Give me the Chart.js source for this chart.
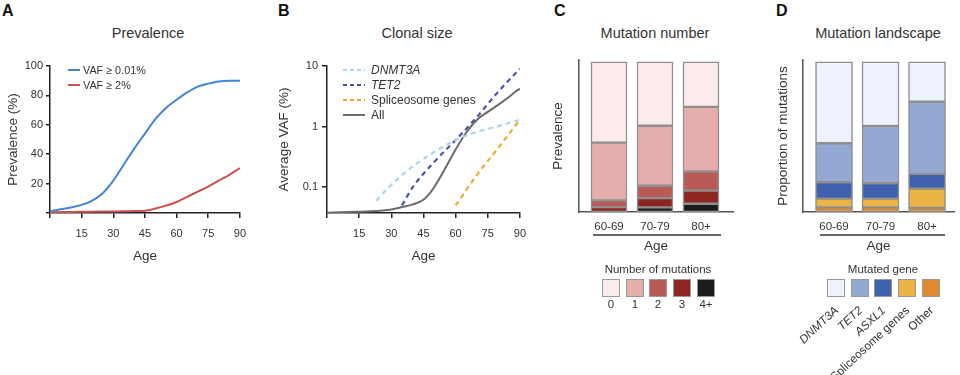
<!DOCTYPE html>
<html>
<head>
<meta charset="utf-8">
<script src="https://cdn.jsdelivr.net/npm/chart.js@4"></script>
<style>
  body { margin: 0; background: #fff; font-family: "Liberation Sans", Arial, sans-serif; color: #333; }
  #wrap { position: relative; width: 960px; height: 375px; overflow: hidden; }
  canvas { position: absolute; }
  .abs { position: absolute; white-space: nowrap; line-height: 1; }
  .letter { font-weight: bold; font-size: 16px; color: #111; top: 3px; }
  .title { font-size: 14.5px; top: 26px; transform: translateX(-50%); }
  .leg { position: absolute; font-size: 11px; }
  .leg .row { display: flex; align-items: center; white-space: nowrap; }
  .box { position: absolute; width: 18px; height: 18px; box-sizing: border-box; border: 1px solid #999; }
  .sep { position: absolute; height: 1.5px; background: #666; }
</style>
</head>
<body>
<div id="wrap">
  <div class="abs letter" style="left:2px">A</div>
  <div class="abs letter" style="left:278px">B</div>
  <div class="abs letter" style="left:554px">C</div>
  <div class="abs letter" style="left:776px">D</div>

  <div class="abs title" style="left:148px">Prevalence</div>
  <div class="abs title" style="left:417px">Clonal size</div>
  <div class="abs title" style="left:655px">Mutation number</div>
  <div class="abs title" style="left:878px">Mutation landscape</div>

  <canvas id="chartA" width="255" height="270" style="left:0;top:0;width:255px;height:270px"></canvas>
  <canvas id="chartB" width="285" height="270" style="left:250px;top:0;width:285px;height:270px"></canvas>
  <canvas id="chartC" width="215" height="260" style="left:530px;top:0;width:215px;height:260px"></canvas>
  <canvas id="chartD" width="210" height="260" style="left:750px;top:0;width:210px;height:260px"></canvas>

  <div id="legA" class="leg" style="left:68px;top:62px;font-size:10.8px"></div>
  <div id="legB" class="leg" style="left:343px;top:62px;font-size:12px"></div>

  <div class="sep" style="left:593px;top:234px;width:128px"></div>
  <div class="sep" style="left:820px;top:234px;width:125px"></div>

  <div id="legC"></div>
  <div id="legD"></div>
</div>

<script>
// ---- Panel A: prevalence by age ----
const AGES_A = [0, 5, 10, 15, 20, 25, 30, 35, 40, 45, 50, 55, 60, 65, 70, 75, 80, 85, 90];
const PREV_VAF_001 = [1.2, 2.5, 3.8, 5.5, 8.5, 13.5, 22, 33, 44, 54, 64, 71.5, 77, 82, 86, 88, 89.5, 90, 90];
const PREV_VAF_2 = [0.5, 0.6, 0.7, 0.8, 0.9, 1, 1.1, 1.2, 1.3, 1.5, 3, 5, 7.5, 11, 14.5, 18, 22, 26, 30.5];
const A_LABELS = ['VAF \u2265 0.01%', 'VAF \u2265 2%'];
const A_COLORS = ['#4285d6', '#c9514f'];

// ---- Panel B: average VAF by age (log scale) ----
const DNMT3A_AGES = [23, 30, 40, 50, 60, 70, 80, 90];
const DNMT3A_VAF = [0.06, 0.11, 0.22, 0.38, 0.6, 0.82, 1.02, 1.3];
const TET2_AGES = [35, 40, 50, 60, 70, 80, 90];
const TET2_VAF = [0.05, 0.1, 0.26, 0.6, 1.45, 3.8, 9];
const SPLICE_AGES = [60, 70, 80, 90];
const SPLICE_VAF = [0.05, 0.16, 0.45, 1.3];
const ALL_AGES = [0, 10, 20, 30, 35, 40, 45, 48, 50, 55, 60, 65, 70, 75, 80, 85, 88, 90];
const ALL_VAF = [0.038, 0.039, 0.04, 0.043, 0.047, 0.052, 0.062, 0.08, 0.1, 0.2, 0.42, 0.8, 1.3, 1.75, 2.3, 3.1, 3.8, 4.2];
const B_LABELS = ['DNMT3A', 'TET2', 'Spliceosome genes', 'All'];
const B_ITALIC = [true, true, false, false];
const B_COLORS = ['#a9d5f2', '#4b55b0', '#f0a830', '#6b6b6b'];
const B_TICKS = [0.1, 1, 10];

// ---- Panel C: mutation number (fraction of carriers) ----
const AGE_GROUPS = ['60-69', '70-79', '80+'];
const MUT_NUMBERS = ['0', '1', '2', '3', '4+'];
const MUT_0 = [0.538, 0.425, 0.299];
const MUT_1 = [0.385, 0.40, 0.43];
const MUT_2 = [0.044, 0.082, 0.129];
const MUT_3 = [0.033, 0.062, 0.087];
const MUT_4 = [0, 0.031, 0.055];
const C_COLORS = ['#fbeceb', '#e6adad', '#b95a57', '#8c2620', '#1c1c1c'];

// ---- Panel D: mutation landscape (proportion of mutations) ----
const GENES = ['DNMT3A', 'TET2', 'ASXL1', 'Spliceosome genes', 'Other'];
const GENE_ITALIC = [true, true, true, false, false];
const GENE_DNMT3A = [0.542, 0.427, 0.265];
const GENE_TET2 = [0.258, 0.38, 0.481];
const GENE_ASXL1 = [0.111, 0.104, 0.098];
const GENE_SPLICE = [0.058, 0.058, 0.129];
const GENE_OTHER = [0.031, 0.031, 0.027];
const D_COLORS = ['#edf2fc', '#94a8d4', '#4062ae', '#ecb445', '#e08a30'];

Chart.defaults.font.family = '"Liberation Sans", Arial, sans-serif';
Chart.defaults.color = '#333';

const AXIS_DARK = '#222';
const AXIS_GRAY = '#555';

function pts(xs, ys) {
  return xs.map((x, i) => ({x: x, y: ys[i]}));
}

function ageAxis(height) {
  return {
    type: 'linear', min: 0, max: 90,
    ticks: {stepSize: 15, callback: v => v === 0 ? '' : v, padding: 9, font: {size: 11}, maxRotation: 0, autoSkip: false},
    grid: {drawOnChartArea: false, tickLength: 5, color: AXIS_DARK, lineWidth: 1.5},
    border: {color: AXIS_DARK, width: 1.5},
    title: {display: true, text: 'Age', font: {size: 13.5}, padding: {top: 0, bottom: 6}},
    afterFit: s => { s.height = height; }
  };
}

const baseOpts = {
  responsive: false, animation: false, devicePixelRatio: 1,
  plugins: {legend: {display: false}, tooltip: {enabled: false}}
};

// Panel A
new Chart(document.getElementById('chartA'), {
  type: 'line',
  data: {
    datasets: [
      {label: A_LABELS[0], data: pts(AGES_A, PREV_VAF_001), borderColor: A_COLORS[0], borderWidth: 2, pointRadius: 0, cubicInterpolationMode: 'monotone'},
      {label: A_LABELS[1], data: pts(AGES_A, PREV_VAF_2), borderColor: A_COLORS[1], borderWidth: 2, pointRadius: 0, cubicInterpolationMode: 'monotone'}
    ]
  },
  options: {
    ...baseOpts,
    layout: {padding: {top: 66, right: 10, left: 0, bottom: 0}},
    scales: {
      x: ageAxis(57),
      y: {
        min: 0, max: 100,
        ticks: {stepSize: 20, callback: v => v === 0 ? '' : v, padding: 3, font: {size: 11}},
        grid: {drawOnChartArea: false, tickLength: 4, color: AXIS_DARK, lineWidth: 1.5},
        border: {color: AXIS_DARK, width: 1.5},
        title: {display: true, text: 'Prevalence (%)', font: {size: 13.5}, padding: {top: 5}},
        afterFit: s => { s.width = 50; }
      }
    }
  }
});

// Panel B
const bSeries = [pts(DNMT3A_AGES, DNMT3A_VAF), pts(TET2_AGES, TET2_VAF), pts(SPLICE_AGES, SPLICE_VAF), pts(ALL_AGES, ALL_VAF)];
new Chart(document.getElementById('chartB'), {
  type: 'line',
  data: {
    datasets: bSeries.map((d, i) => ({
      label: B_LABELS[i], data: d, borderColor: B_COLORS[i], pointRadius: 0,
      borderWidth: i === 3 ? 2 : 2.2, borderDash: i === 3 ? [] : [5, 4],
      cubicInterpolationMode: 'monotone'
    }))
  },
  options: {
    ...baseOpts,
    layout: {padding: {top: 66, right: 13, left: 0, bottom: 0}},
    scales: {
      x: ageAxis(57),
      y: {
        type: 'logarithmic', min: 0.0375, max: 10,
        afterBuildTicks: s => { s.ticks = B_TICKS.map(v => ({value: v})); },
        ticks: {callback: v => String(v), padding: 4, font: {size: 11}, autoSkip: false},
        grid: {drawOnChartArea: false, tickLength: 5, color: AXIS_DARK, lineWidth: 1.5},
        border: {color: AXIS_DARK, width: 1.5},
        title: {display: true, text: 'Average VAF (%)', font: {size: 13.5}, padding: {top: 26}},
        afterFit: s => { s.width = 77; }
      }
    }
  }
});

function barChart(id, names, rows, colors, xMin, xMax, thickness, yTitle, yWidth, titlePad, padRight) {
  // stack from the bottom up: last category first
  const datasets = [];
  for (let k = rows.length - 1; k >= 0; k--) {
    datasets.push({
      label: names[k],
      data: rows[k].map((v, i) => ({x: i, y: v})),
      backgroundColor: colors[k], borderColor: '#8f8f8f', borderWidth: 1.5,
      borderSkipped: false, barThickness: thickness
    });
  }
  new Chart(document.getElementById(id), {
    type: 'bar',
    data: {datasets: datasets},
    options: {
      ...baseOpts,
      layout: {padding: {top: 60, right: padRight, left: 0, bottom: 0}},
      scales: {
        x: {
          type: 'linear', min: xMin, max: xMax, stacked: true, offset: false,
          afterBuildTicks: s => { s.ticks = AGE_GROUPS.map((g, i) => ({value: i})); },
          ticks: {callback: v => AGE_GROUPS[v], padding: 8, font: {size: 11.5}, autoSkip: false, maxRotation: 0},
          grid: {display: false, drawTicks: false},
          border: {color: AXIS_GRAY, width: 1.5},
          title: {display: true, text: 'Age', font: {size: 13.5}, padding: {top: 0, bottom: 6}},
          afterFit: s => { s.height = 48; }
        },
        y: {
          min: 0, max: 1.013, stacked: true,
          ticks: {display: false},
          grid: {display: false, drawTicks: false},
          border: {color: AXIS_GRAY, width: 1.5},
          title: {display: true, text: yTitle, font: {size: 13.5}, padding: {top: titlePad}},
          afterFit: s => { s.width = yWidth; }
        }
      }
    }
  });
}

barChart('chartC', MUT_NUMBERS, [MUT_0, MUT_1, MUT_2, MUT_3, MUT_4], C_COLORS,
  -0.652, 2.696, 36, 'Prevalence', 49, 20, 12);
barChart('chartD', GENES, [GENE_DNMT3A, GENE_TET2, GENE_ASXL1, GENE_SPLICE, GENE_OTHER], D_COLORS,
  -0.667, 2.58, 37, 'Proportion of mutations', 53, 25, 6);

// ---- HTML legends ----
function lineLegend(el, labels, colors, dashes, italic, swW, gap, rowH) {
  let html = '';
  labels.forEach((lab, i) => {
    const dash = dashes[i] ? ' stroke-dasharray="4 3"' : '';
    html += '<div class="row" style="height:' + rowH + 'px">' +
      '<svg width="' + swW + '" height="4" style="margin-right:' + gap + 'px"><line x1="0" y1="2" x2="' + swW + '" y2="2" stroke="' + colors[i] + '" stroke-width="2"' + dash + '/></svg>' +
      '<span style="font-style:' + (italic[i] ? 'italic' : 'normal') + '">' + lab + '</span></div>';
  });
  el.innerHTML = html;
}
lineLegend(document.getElementById('legA'), A_LABELS, A_COLORS, [false, false], [false, false], 12, 3, 15.5);
lineLegend(document.getElementById('legB'), B_LABELS, B_COLORS, [true, true, true, false], B_ITALIC, 22, 6, 15.2);

function boxLegend(el, title, names, colors, titleX, boxXs, rotated, italic) {
  let html = '<div class="abs" style="left:' + titleX + 'px;top:264px;font-size:11.5px;transform:translateX(-50%)">' + title + '</div>';
  names.forEach((n, i) => {
    html += '<div class="box" style="left:' + boxXs[i] + 'px;top:279px;background:' + colors[i] + '"></div>';
    const cx = boxXs[i] + 9;
    if (rotated) {
      html += '<div class="abs" style="left:' + (cx + 1) + 'px;top:309px;font-size:11.8px;font-style:' + (italic[i] ? 'italic' : 'normal') +
        ';transform-origin:100% 50%;transform:translate(-100%,-50%) rotate(-43deg)">' + n + '</div>';
    } else {
      html += '<div class="abs" style="left:' + cx + 'px;top:299px;font-size:11.5px;transform:translateX(-50%)">' + n + '</div>';
    }
  });
  el.innerHTML = html;
}
boxLegend(document.getElementById('legC'), 'Number of mutations', MUT_NUMBERS, C_COLORS, 658, [602, 626, 649, 673, 697], false, []);
boxLegend(document.getElementById('legD'), 'Mutated gene', GENES, D_COLORS, 883, [827, 851, 874, 898, 922], true, GENE_ITALIC);
</script>
</body>
</html>
